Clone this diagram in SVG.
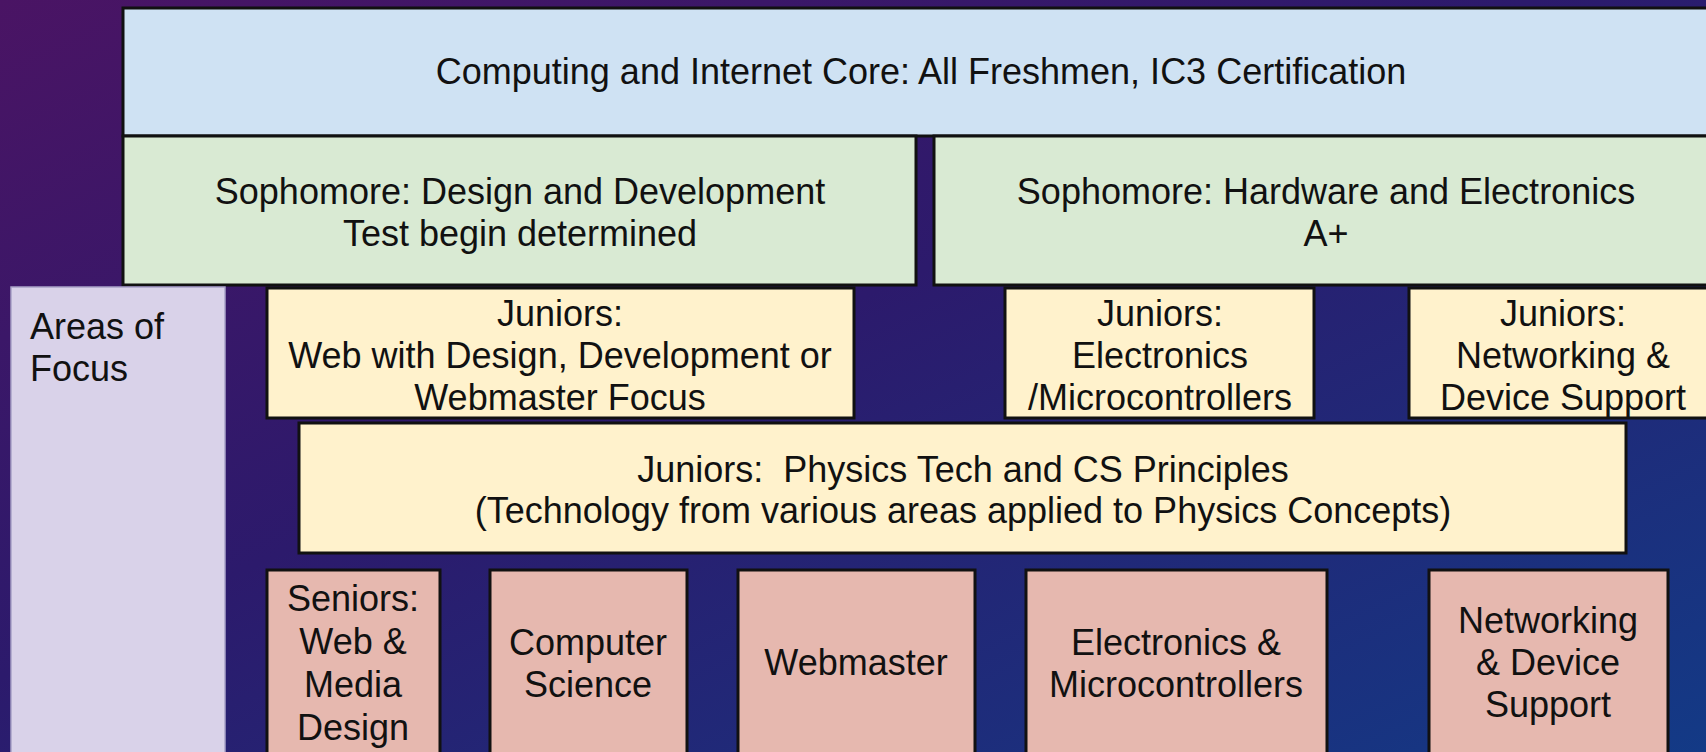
<svg xmlns="http://www.w3.org/2000/svg" width="1706" height="752" viewBox="0 0 1706 752">
<defs>
<linearGradient id="bg" x1="0" y1="0" x2="1" y2="1">
<stop offset="0" stop-color="#4a1464"/>
<stop offset="0.45" stop-color="#2c1a6c"/>
<stop offset="1" stop-color="#133a86"/>
</linearGradient>
<style>
.box{stroke:#111;stroke-width:3}
.blue{fill:#cfe2f3}
.green{fill:#d9ead3}
.yellow{fill:#fff2cc}
.pink{fill:#e6b8af}
.lav{fill:#d9d2e9;stroke:#a9a3c8;stroke-width:1.5}
text{font-family:"Liberation Sans",Arial,sans-serif;font-size:36px;fill:#111;text-anchor:middle}
.left{text-anchor:start}
</style>
</defs>
<rect x="0" y="0" width="1706" height="752" fill="url(#bg)"/>
<g id="core">
<rect class="box blue" x="123" y="8" width="1600" height="128"/>
<text x="921" y="84">Computing and Internet Core: All Freshmen, IC3 Certification</text>
</g>
<g id="soph-design">
<rect class="box green" x="123" y="136" width="793" height="149"/>
<text x="520" y="204">Sophomore: Design and Development</text>
<text x="520" y="246">Test begin determined</text>
</g>
<g id="soph-hardware">
<rect class="box green" x="934" y="136" width="790" height="149"/>
<text x="1326" y="204">Sophomore: Hardware and Electronics</text>
<text x="1326" y="246">A+</text>
</g>
<g id="areas">
<rect class="lav" x="11" y="287" width="214" height="480"/>
<text class="left" x="30" y="339">Areas of</text>
<text class="left" x="30" y="381">Focus</text>
</g>
<g id="jr-web">
<rect class="box yellow" x="267" y="288" width="587" height="130"/>
<text x="560" y="326">Juniors:</text>
<text x="560" y="368">Web with Design, Development or</text>
<text x="560" y="410">Webmaster Focus</text>
</g>
<g id="jr-electronics">
<rect class="box yellow" x="1005" y="288" width="309" height="130"/>
<text x="1160" y="326">Juniors:</text>
<text x="1160" y="368">Electronics</text>
<text x="1160" y="410">/Microcontrollers</text>
</g>
<g id="jr-networking">
<rect class="box yellow" x="1409" y="288" width="310" height="130"/>
<text x="1563" y="326">Juniors:</text>
<text x="1563" y="368">Networking &amp;</text>
<text x="1563" y="410">Device Support</text>
</g>
<g id="jr-physics">
<rect class="box yellow" x="299" y="423" width="1327" height="130"/>
<text x="963" y="482" xml:space="preserve">Juniors:  Physics Tech and CS Principles</text>
<text x="963" y="523">(Technology from various areas applied to Physics Concepts)</text>
</g>
<g id="sr-web">
<rect class="box pink" x="267" y="570" width="173" height="200"/>
<text x="353" y="611">Seniors:</text>
<text x="353" y="654">Web &amp;</text>
<text x="353" y="697">Media</text>
<text x="353" y="740">Design</text>
</g>
<g id="sr-cs">
<rect class="box pink" x="490" y="570" width="197" height="200"/>
<text x="588" y="655">Computer</text>
<text x="588" y="697">Science</text>
</g>
<g id="sr-webmaster">
<rect class="box pink" x="738" y="570" width="237" height="200"/>
<text x="856" y="675">Webmaster</text>
</g>
<g id="sr-electronics">
<rect class="box pink" x="1026" y="570" width="301" height="200"/>
<text x="1176" y="655">Electronics &amp;</text>
<text x="1176" y="697">Microcontrollers</text>
</g>
<g id="sr-networking">
<rect class="box pink" x="1429" y="570" width="239" height="200"/>
<text x="1548" y="633">Networking</text>
<text x="1548" y="675">&amp; Device</text>
<text x="1548" y="717">Support</text>
</g>
<g id="connectors"></g>
</svg>
